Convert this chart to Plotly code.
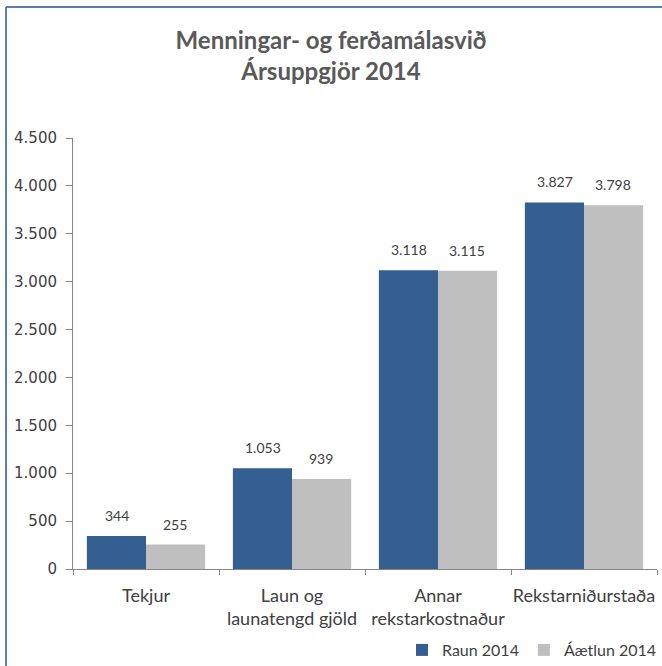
import plotly.graph_objects as go

# 데이터
categories = ["Tekjur", "Laun og<br>launatengd gjöld", "Annar<br>rekstarkostnaður", "Rekstarniðurstaða"]
raun_2014 = [344, 1053, 3118, 3827]
aaetlun_2014 = [255, 939, 3115, 3798]
series_names = ["Raun 2014", "Áætlun 2014"]
y_tickvals = [0, 500, 1000, 1500, 2000, 2500, 3000, 3500, 4000, 4500]
y_ticktext = ["0", "500", "1.000", "1.500", "2.000", "2.500", "3.000", "3.500", "4.000", "4.500"]

BLUE = "#365F91"
GREY = "#BFBFBF"
AXIS = "#868686"
TEXT = "#404040"
LABEL_FONT = "Lato, 'Open Sans', sans-serif"


def fmt(v):
    return f"{v:,}".replace(",", ".")


fig = go.Figure()
for name, values, color in [(series_names[0], raun_2014, BLUE), (series_names[1], aaetlun_2014, GREY)]:
    fig.add_trace(go.Bar(
        x=categories,
        y=values,
        name=name,
        marker=dict(color=color, line=dict(width=0)),
    ))

# 데이터 레이블 (막대 위쪽)
for values, shift in [(raun_2014, -29), (aaetlun_2014, 29)]:
    for c, v in zip(categories, values):
        fig.add_annotation(
            x=c, y=v, text=fmt(v), showarrow=False,
            xshift=shift, yshift=10, yanchor="bottom",
            font=dict(family=LABEL_FONT, size=14, color=TEXT),
        )

# 테두리 (왼쪽, 위쪽)
fig.add_shape(type="line", xref="paper", yref="paper", x0=-0.1147, x1=-0.1147, y0=-1, y1=1.304,
              line=dict(color="#5B7DB1", width=2))
fig.add_shape(type="line", xref="paper", yref="paper", x0=-0.1147, x1=1.2, y0=1.304, y1=1.304,
              line=dict(color="#5B7DB1", width=2))

fig.update_layout(
    width=662,
    height=666,
    barmode="group",
    bargap=0.19,
    bargroupgap=0,
    plot_bgcolor="white",
    paper_bgcolor="white",
    margin=dict(l=73, r=5, t=138, b=97, autoexpand=False),
    title=dict(
        text="<b>Menningar- og ferðamálasvið<br>Ársuppgjör 2014</b>",
        x=0.5, xanchor="center", y=0.926, yanchor="top",
        font=dict(family=LABEL_FONT, size=24, color="#595959"),
    ),
    legend=dict(
        orientation="h", xref="container", yref="container",
        x=1.0, xanchor="right", y=0.024, yanchor="middle",
        font=dict(family=LABEL_FONT, size=16, color=TEXT),
        itemwidth=30, traceorder="normal",
    ),
    xaxis=dict(
        showline=True, linecolor=AXIS, linewidth=1,
        ticks="outside", tickson="boundaries", ticklen=5, tickcolor=AXIS,
        tickfont=dict(family=LABEL_FONT, size=18, color=TEXT),
        tickangle=0,
        ticklabelstandoff=10,
        showgrid=False,
    ),
    yaxis=dict(
        range=[0, 4500],
        tickvals=y_tickvals, ticktext=y_ticktext,
        showline=True, linecolor=AXIS, linewidth=1,
        ticks="outside", ticklen=6, tickcolor=AXIS,
        tickfont=dict(family="DejaVu Sans", size=15, color=TEXT),
        ticklabelstandoff=6,
        showgrid=False, zeroline=False,
    ),
)

# 본문 기본 여백 제거
fig.write_html(
    "out.html",
    config={"displayModeBar": False},
    post_script="document.body.style.margin='0';",
)
